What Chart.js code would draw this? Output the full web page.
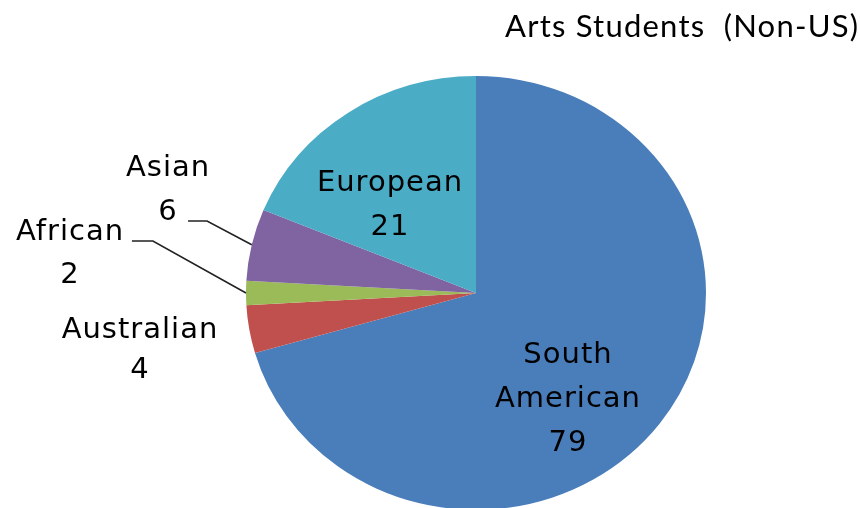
<!DOCTYPE html>
<html><head><meta charset="utf-8">
<script src="https://cdn.jsdelivr.net/npm/chart.js@4"></script>
<style>
html,body{margin:0;padding:0;background:#fff;overflow:hidden;width:860px;height:508px}
#wrap{position:absolute;left:0;top:0;width:860px;height:540px}
</style></head><body>
<div id="wrap"><canvas id="c" width="860" height="540"></canvas></div>
<script>
const chartTitle = 'Arts Students  (Non-US)';
const categories = ['South American', 'Australian', 'African', 'Asian', 'European'];
const values = [79, 4, 2, 6, 21];
const labelLines = [['South', 'American'], ['Australian'], ['African'], ['Asian'], ['European']];
const colors = ['#4A7EBB', '#C0504D', '#9BBB59', '#8064A2', '#4BACC6'];

// label layout: offsets relative to pie centre, in units of the radius; line spacing in px
const labelLayout = [
  {fx: 0.40, fy: 0.27, lh: 44},
  {fx: -1.461, fy: 0.161, lh: 40},
  {fx: -1.765, fy: -0.265, lh: 43},
  {fx: -1.339, fy: -0.543, lh: 44},
  {fx: -0.374, fy: -0.478, lh: 44}
];
// leader lines: start point relative to centre/radius, horizontal run in px
const leaders = {3: {fx: -1.252, fy: -0.313, run: 19}, 2: {fx: -1.496, fy: -0.226, run: 21}};
const SQUASH = 0.943;

const squashPlugin = {
  id: 'squash',
  beforeDatasetsDraw(chart) {
    const a = chart.getDatasetMeta(0).data[0];
    const ctx = chart.ctx;
    ctx.save();
    ctx.translate(a.x, a.y);
    ctx.scale(1, SQUASH);
    ctx.translate(-a.x, -a.y);
  },
  afterDatasetsDraw(chart) { chart.ctx.restore(); }
};

const labelPlugin = {
  id: 'labels',
  afterDraw(chart) {
    const ctx = chart.ctx;
    const arcs = chart.getDatasetMeta(0).data;
    const cx = arcs[0].x, cy = arcs[0].y, R = arcs[0].outerRadius;
    ctx.save();
    // title
    ctx.fillStyle = '#000';
    ctx.font = '31px Lato';
    ctx.textAlign = 'right';
    ctx.textBaseline = 'alphabetic';
    ctx.letterSpacing = '0px';
    const w = ctx.measureText(chartTitle).width;
    const ls = Math.max(0, (353 - w) / (chartTitle.length - 1));
    ctx.letterSpacing = ls.toFixed(2) + 'px';
    ctx.fillText(chartTitle, 858 + ls, 37);
    // slice labels
    ctx.font = '29px "DejaVu Sans"';
    ctx.letterSpacing = '1px';
    ctx.textAlign = 'center';
    ctx.textBaseline = 'middle';
    ctx.fillStyle = '#000';
    arcs.forEach((arc, i) => {
      const L = labelLayout[i];
      const x = cx + L.fx * R;
      const y = cy + L.fy * R;
      const lines = labelLines[i].concat([String(values[i])]);
      lines.forEach((t, k) => ctx.fillText(t, x, y + k * L.lh));
    });
    // leader lines
    ctx.strokeStyle = '#222';
    ctx.lineWidth = 1.6;
    Object.keys(leaders).forEach(k => {
      const arc = arcs[k];
      const ld = leaders[k];
      const mid = (arc.startAngle + arc.endAngle) / 2;
      const ex = cx + Math.cos(mid) * R;
      const ey = cy + Math.sin(mid) * R * SQUASH;
      const sx = cx + ld.fx * R, sy = cy + ld.fy * R;
      ctx.beginPath();
      ctx.moveTo(sx, sy);
      ctx.lineTo(sx + ld.run, sy);
      ctx.lineTo(ex, ey);
      ctx.stroke();
    });
    ctx.restore();
  }
};

new Chart(document.getElementById('c'), {
  type: 'pie',
  data: {
    labels: categories,
    datasets: [{data: values, backgroundColor: colors, borderWidth: 0}]
  },
  options: {
    responsive: false,
    devicePixelRatio: 1,
    animation: false,
    events: [],
    layout: {padding: {left: 246, right: 154, top: 63, bottom: 17}},
    plugins: {legend: {display: false}, tooltip: {enabled: false}, title: {display: false}}
  },
  plugins: [squashPlugin, labelPlugin]
});
</script>
</body></html>
